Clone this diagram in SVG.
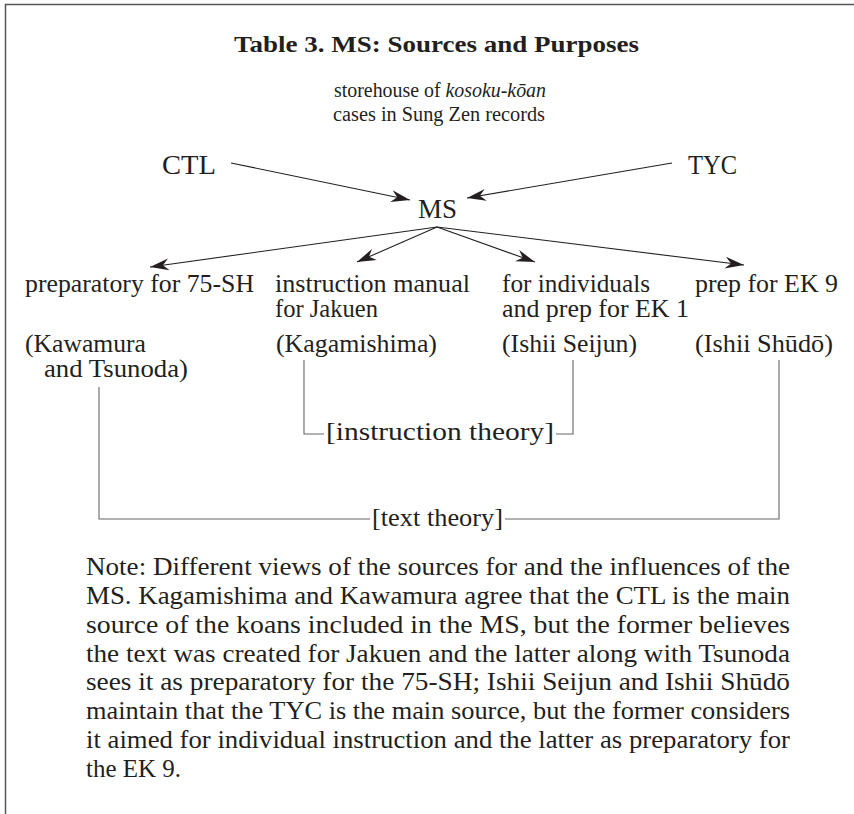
<svg xmlns="http://www.w3.org/2000/svg" width="854" height="814" viewBox="0 0 854 814">
<style>
text{font-family:"Liberation Serif","Times New Roman",serif;fill:#231f20}
.t{font-size:24px;font-weight:bold}
.s{font-size:20.5px}
.big{font-size:27px}
.b{font-size:24.5px}
.n{font-size:25px}
.frame{stroke:#555;stroke-width:1.5;fill:none}
.conn{stroke:#231f20;stroke-width:1.1;fill:none}
.br{stroke:#666;stroke-width:1.1;fill:none}
</style>
<defs>
<marker id="ah" markerUnits="userSpaceOnUse" markerWidth="20" markerHeight="14" viewBox="-19 -7 20 14" refX="0" refY="0" orient="auto">
<path d="M0,0 L-19,-6 L-13,0 L-19,6 Z" fill="#231f20"/>
</marker>
</defs>
<rect width="854" height="814" fill="#fff"/>
<path class="frame" d="M854,4.5 H5.5 V814"/>
<g id="title"><text class="t" x="234" y="52" textLength="405" lengthAdjust="spacingAndGlyphs">Table 3. MS: Sources and Purposes</text></g>
<g id="storehouse">
<text class="s" x="334" y="97" textLength="212" lengthAdjust="spacingAndGlyphs">storehouse of <tspan font-style="italic">kosoku-kōan</tspan></text>
<text class="s" x="333" y="121" textLength="212" lengthAdjust="spacingAndGlyphs">cases in Sung Zen records</text>
</g>
<g id="ctl"><text class="big" x="162" y="174" textLength="54" lengthAdjust="spacingAndGlyphs">CTL</text></g>
<g id="tyc"><text class="big" x="688" y="174" textLength="49" lengthAdjust="spacingAndGlyphs">TYC</text></g>
<g id="ms"><text class="big" x="418" y="218" textLength="39" lengthAdjust="spacingAndGlyphs">MS</text></g>
<g id="p75sh">
<text class="b" x="25" y="292" textLength="229" lengthAdjust="spacingAndGlyphs">preparatory for 75-SH</text>
<text class="b" x="25" y="352" textLength="121" lengthAdjust="spacingAndGlyphs">(Kawamura</text>
<text class="b" x="44" y="377" textLength="144" lengthAdjust="spacingAndGlyphs">and Tsunoda)</text>
</g>
<g id="jakuen">
<text class="b" x="275" y="292" textLength="195" lengthAdjust="spacingAndGlyphs">instruction manual</text>
<text class="b" x="275" y="317" textLength="103" lengthAdjust="spacingAndGlyphs">for Jakuen</text>
<text class="b" x="276" y="352" textLength="161" lengthAdjust="spacingAndGlyphs">(Kagamishima)</text>
</g>
<g id="individuals">
<text class="b" x="502" y="292" textLength="148" lengthAdjust="spacingAndGlyphs">for individuals</text>
<text class="b" x="502" y="317" textLength="187" lengthAdjust="spacingAndGlyphs">and prep for EK 1</text>
<text class="b" x="502" y="352" textLength="135" lengthAdjust="spacingAndGlyphs">(Ishii Seijun)</text>
</g>
<g id="ek9">
<text class="b" x="695" y="292" textLength="143" lengthAdjust="spacingAndGlyphs">prep for EK 9</text>
<text class="b" x="695" y="352" textLength="138" lengthAdjust="spacingAndGlyphs">(Ishii Shūdō)</text>
</g>
<g id="instruction-theory"><text class="b" x="326" y="440" textLength="228" lengthAdjust="spacingAndGlyphs">[instruction theory]</text></g>
<g id="text-theory"><text class="b" x="372" y="526" textLength="131" lengthAdjust="spacingAndGlyphs">[text theory]</text></g>
<g id="connectors">
<line class="conn" x1="231" y1="163" x2="410" y2="200" marker-end="url(#ah)"/>
<line class="conn" x1="672" y1="163" x2="467" y2="198" marker-end="url(#ah)"/>
<line class="conn" x1="437" y1="227" x2="150" y2="267" marker-end="url(#ah)"/>
<line class="conn" x1="437" y1="227" x2="357" y2="262" marker-end="url(#ah)"/>
<line class="conn" x1="437" y1="227" x2="535" y2="262" marker-end="url(#ah)"/>
<line class="conn" x1="437" y1="227" x2="744" y2="265" marker-end="url(#ah)"/>
<path class="br" d="M304,360 V434 H324"/>
<path class="br" d="M556,434 H573 V360"/>
<path class="br" d="M99,387 V519 H370"/>
<path class="br" d="M505,519 H779 V360"/>
</g>
<g id="note">
<text class="n" x="86" y="575" textLength="704" lengthAdjust="spacingAndGlyphs">Note: Different views of the sources for and the influences of the</text>
<text class="n" x="86" y="603.9" textLength="704" lengthAdjust="spacingAndGlyphs">MS. Kagamishima and Kawamura agree that the CTL is the main</text>
<text class="n" x="86" y="632.7" textLength="704" lengthAdjust="spacingAndGlyphs">source of the koans included in the MS, but the former believes</text>
<text class="n" x="86" y="661.6" textLength="704" lengthAdjust="spacingAndGlyphs">the text was created for Jakuen and the latter along with Tsunoda</text>
<text class="n" x="86" y="690.4" textLength="704" lengthAdjust="spacingAndGlyphs">sees it as preparatory for the 75-SH; Ishii Seijun and Ishii Shūdō</text>
<text class="n" x="86" y="719.3" textLength="704" lengthAdjust="spacingAndGlyphs">maintain that the TYC is the main source, but the former considers</text>
<text class="n" x="86" y="748.1" textLength="704" lengthAdjust="spacingAndGlyphs">it aimed for individual instruction and the latter as preparatory for</text>
<text class="n" x="86" y="777" textLength="95" lengthAdjust="spacingAndGlyphs">the EK 9.</text>
</g>
</svg>
